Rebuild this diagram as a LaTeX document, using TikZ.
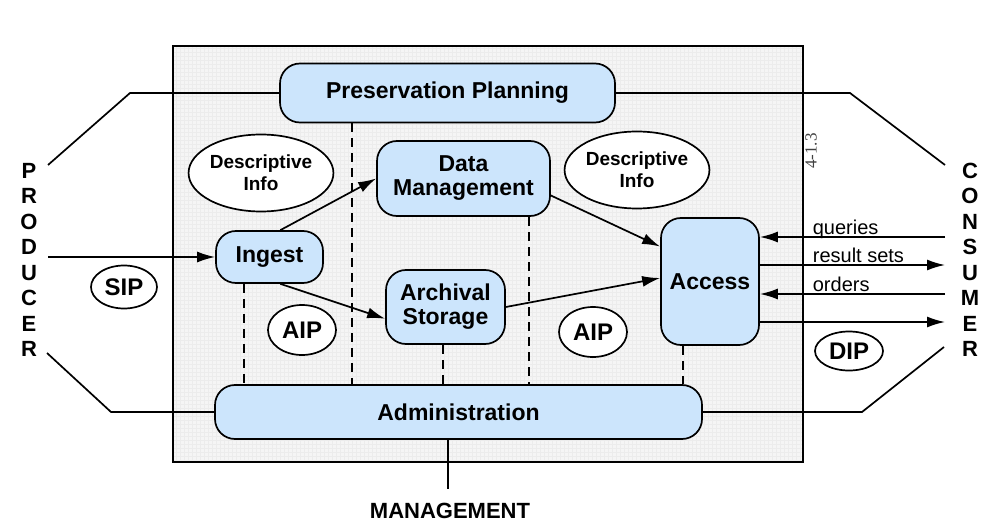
\documentclass[tikz,border=0pt]{standalone}
\usepackage{fontspec}
\setmainfont{Liberation Sans}
\newfontfamily\figfont{Liberation Serif}
\usepackage{tikz}
\usetikzlibrary{shapes,arrows.meta,positioning,calc}
\definecolor{boxblue}{RGB}{204,229,252}
\definecolor{bggray}{RGB}{245,245,245}
\definecolor{gridgray}{RGB}{236,236,236}

\begin{document}
\begin{tikzpicture}[x=1pt, y=-1pt, line width=1.7pt, >={Latex[length=18pt,width=11pt]},
        block/.style={rectangle, draw, fill=boxblue, align=center, rounded corners=20pt, inner sep=0pt, font=\fontsize{23}{24}\selectfont\bfseries},
        info/.style={ellipse, draw, fill=white, align=center, inner sep=0pt, minimum width=136pt, minimum height=77pt, font=\fontsize{19}{22}\selectfont\bfseries},
        pkg/.style={ellipse, draw, fill=white, inner sep=0pt, minimum width=68pt, font=\fontsize{24}{24}\selectfont\bfseries},
        lbl/.style={anchor=base west, inner sep=0pt, font=\fontsize{20}{20}\selectfont},
        party/.style={align=center, inner sep=0pt, font=\fontsize{22}{25.5}\selectfont\bfseries},
        sepline/.style={draw, dash pattern=on 9pt off 6pt}]

        \useasboundingbox (0,0) rectangle (992,529);

        % OAIS box
        \path [fill=bggray] (173,46) rectangle (803,462);
        \draw [gridgray, line width=0.3pt, step=4pt] (173,46) grid (803,462);
        \path [draw] (173,46) rectangle (803,462);

        \node [block, minimum width=335pt, minimum height=59pt] (pp) at (447.5,93) {Preservation Planning};
        \node [block, minimum width=173pt, minimum height=75pt] (dm) at (463.5,178.5) {Data\\Management};
        \node [block, minimum width=107pt, minimum height=52pt] (ingest) at (269.5,257) {Ingest};
        \node [block, minimum width=119pt, minimum height=74pt] (archival) at (445.5,307) {Archival\\Storage};
        \node [block, minimum width=98pt, minimum height=127pt] (access) at (710,281.5) {Access};
        \node [block, minimum width=487pt, minimum height=54pt] (admin) at (458.5,412) {Administration};

        \node [info] (descleft) at (261,173) {Descriptive\\Info};
        \node [info] (descright) at (637,170) {Descriptive\\Info};
        \node [pkg, minimum height=50pt] (aipleft) at (302,330) {AIP};
        \node [pkg, minimum height=50pt] (aipright) at (593,332) {AIP};
        \node [pkg, minimum width=66pt, minimum height=43pt] (sip) at (124,287) {SIP};
        \node [pkg, minimum height=39pt] (dip) at (849,351) {DIP};

        \node [party] (producer) at (29,260) {P\\R\\O\\D\\U\\C\\E\\R};
        \node [party] (consumer) at (970,260) {C\\O\\N\\S\\U\\M\\E\\R};
        \node [party] (management) at (450,511) {MANAGEMENT};
        \node [rotate=90, inner sep=0pt, text=black!75, font=\figfont\fontsize{17}{17}\selectfont] (figno) at (811,151) {4-1.3};

        \node [lbl] (queries) at (812,234) {queries};
        \node [lbl] (results) at (812,262) {result sets};
        \node [lbl] (orders) at (812,291) {orders};

        % free ends outside the box
        \coordinate (ptop) at (48,165);
        \coordinate (pbot) at (47,353);
        \coordinate (pin) at (48,257);
        \coordinate (ctop) at (945,165);
        \coordinate (cbot) at (944,347);
        \coordinate (cq) at (945,237);
        \coordinate (cr) at (945,265);
        \coordinate (co) at (945,294);
        \coordinate (cd) at (945,322);
        \coordinate (mgmt) at (448,489);

        \path [draw] (ptop) -- (130,93) -- (pp.west);
        \path [draw] (pbot) -- (111,412) -- (admin.west);
        \path [draw] (pp.east) -- (850,93) -- (ctop);
        \path [draw] (admin.east) -- (862,412) -- (cbot);
        \path [draw] (mgmt |- admin.south) -- (mgmt);

        \path [draw, ->] (pin) -- (ingest.west);
        \path [draw, ->] (ingest.68) -- (dm.west);
        \path [draw, ->] (ingest.-68) -- (archival.191);
        \path [draw, ->] (dm.-11) -- (access.145);
        \path [draw, ->] (archival.east) -- (access.176);

        \path [draw, ->] (cq) -- (cq -| access.east);
        \path [draw, ->] (cr -| access.east) -- (cr);
        \path [draw, ->] (co) -- (co -| access.east);
        \path [draw, ->] (cd -| access.east) -- (cd);

        % dashed links to administration
        \path [sepline] ($(ingest.south)+(-25.5,0)$) coordinate (s1) -- (s1 |- admin.north);
        \path [sepline] ($(pp.south)+(-95.5,0)$) coordinate (s2) -- (s2 |- admin.north);
        \path [sepline] ($(archival.south)+(-2.5,0)$) coordinate (s3) -- (s3 |- admin.north);
        \path [sepline] ($(dm.south)+(65.5,0)$) coordinate (s4) -- (s4 |- admin.north);
        \path [sepline] ($(access.south)+(-27,0)$) coordinate (s5) -- (s5 |- admin.north);
    \end{tikzpicture}
\end{document}
